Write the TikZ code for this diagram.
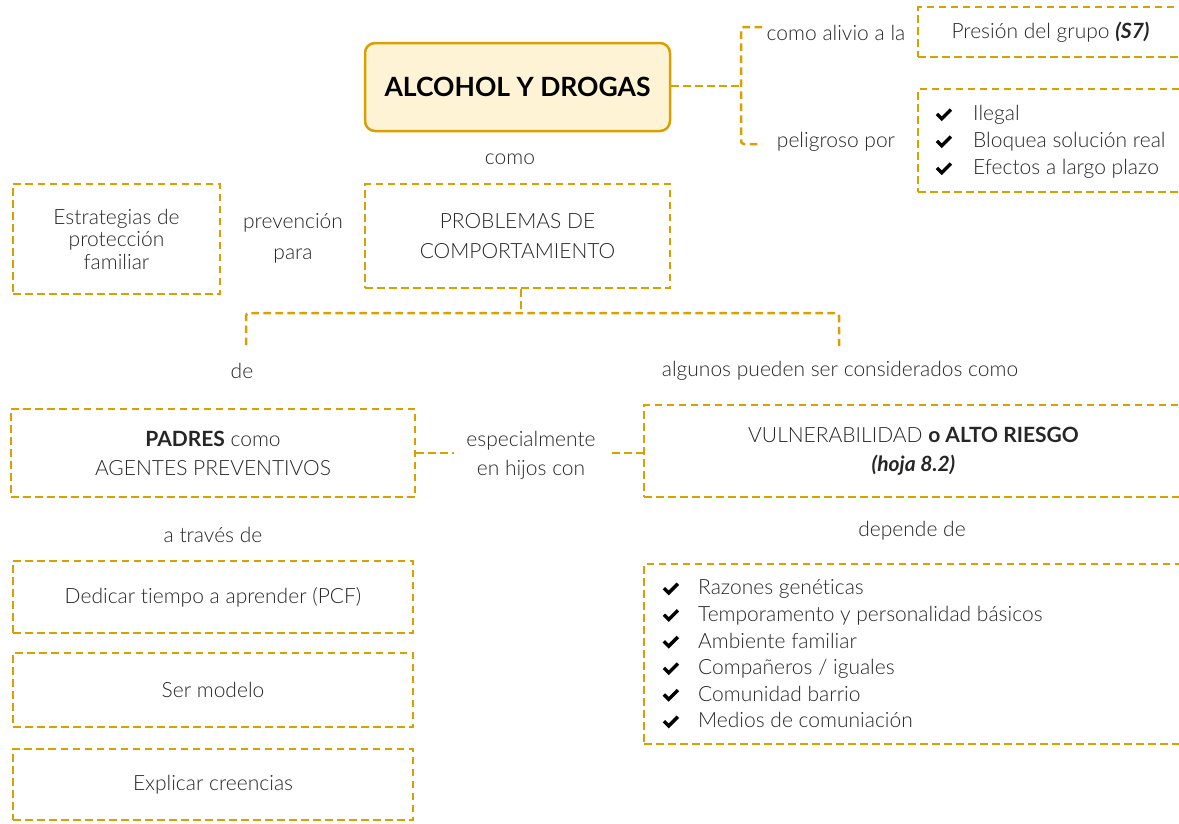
\documentclass[tikz,border=0pt]{standalone}
\usepackage{fontspec}
\IfFontExistsTF{Lato Light}{%
  \setmainfont{Lato Light}[Ligatures={NoCommon},BoldFont={Lato Bold},ItalicFont={Lato Light Italic},BoldItalicFont={Lato Bold Italic}]%
}{\setmainfont{Lato}[Ligatures={NoCommon}]}
\usetikzlibrary{calc}
\definecolor{gold}{RGB}{217,160,0}
\definecolor{cream}{RGB}{255,243,214}
\definecolor{ink}{RGB}{38,38,38}
% bold check icon followed by a fixed gap
\newcommand{\tick}[1]{\makebox[#1][l]{\tikz[x=1pt,y=1pt,baseline=0pt]
  \draw[black,solid,line width=3.4pt,line join=miter,line cap=butt] (0.5,6.8) -- (5.3,2) -- (14.5,11.2);}}
\newcommand{\fs}[1]{\fontsize{21}{#1}\selectfont}

\begin{document}
\begin{tikzpicture}[x=1pt,y=-1pt,text=ink,
  dashline/.style={draw=gold,line width=2.5pt,dash pattern=on 7.5pt off 4.5pt},
  dbox/.style={dashline,inner sep=0pt,align=center},
  lbl/.style={inner sep=0pt,align=center},
  titlebox/.style={draw=gold,fill=cream,line width=2.5pt,rounded corners=10pt,inner sep=0pt,
    minimum width=305pt,minimum height=88pt,font=\fontsize{26.5}{30}\selectfont\bfseries,text=black}]
\useasboundingbox (0,0) rectangle (1179,823);

% central topic
\node[titlebox] (title) at (517.5,87) {ALCOHOL Y DROGAS};

% upper right branch
\node[dbox,minimum width=265pt,minimum height=50pt,font=\fs{22}] (presion) at (1050.5,32)
  {Presión del grupo \textbf{\textit{(S7)}}};
\node[dbox,minimum width=265pt,minimum height=103pt] (peligro) at (1050.5,140.5) {};
\node[lbl,anchor=west,align=left,font=\fs{27}] (pelist) at (935,142)
  {\tick{38pt}Ilegal\\ \tick{38pt}Bloquea solución real\\ \tick{38pt}Efectos a largo plazo};
\node[lbl,font=\fs{22}] (alivio) at (836,33) {como alivio a la};
\node[lbl,font=\fs{22}] (peligroso) at (836,142) {peligroso por};
\coordinate (brT) at (762,27);
\coordinate (brB) at (762,144);
\coordinate (brM) at (741,86);
\draw[dashline] (title.east |- brM) -- (brM);
\draw[dashline,rounded corners=3pt] (brT) -- (741,27) -- (741,144) -- (brB);

% middle row
\node[lbl,font=\fs{22}] (como) at (510,159) {como};
\node[dbox,minimum width=207pt,minimum height=110pt,font=\fs{22.5}] (estrat) at (116.5,239)
  {Estrategias de\\protección\\familiar};
\node[lbl,font=\fs{31}] (prev) at (293,238.5) {prevención\\para};
\node[dbox,minimum width=305pt,minimum height=104pt,font=\fs{30}] (problemas) at (517.5,236)
  {PROBLEMAS DE\\COMPORTAMIENTO};

% split below the problems box
\coordinate (brL) at (246,345);
\coordinate (brR) at (839,346);
\draw[dashline] ($(problemas.south)+(3.5,0)$) -- ++(0,25);
\draw[dashline,rounded corners=3pt] (brL) -- (246,313) -- (839,313) -- (brR);
\node[lbl,font=\fs{22}] (de) at (242,371) {de};
\node[lbl,font=\fs{22}] (algunos) at (840,371) {algunos pueden ser considerados como};

% parents and risk
\node[dbox,minimum width=404pt,minimum height=88pt,font=\fs{29}] (padres) at (213,453)
  {\textbf{PADRES} como\\AGENTES PREVENTIVOS};
\node[lbl,font=\fs{29}] (espec) at (531,455) {especialmente\\en hijos con};
\node[dbox,minimum width=539pt,minimum height=92pt,font=\fs{29}] (vulner) at (913.5,451)
  {VULNERABILIDAD \textbf{o ALTO RIESGO}\\\textbf{\textit{(hoja 8.2)}}};
\coordinate (spL) at (454,453);
\coordinate (spR) at (612,453);
\draw[dashline] (padres.east |- spL) -- (spL);
\draw[dashline] (spR) -- (vulner.west |- spR);

% factors
\node[lbl,font=\fs{22}] (depende) at (912,531) {depende de};
\node[dbox,minimum width=539pt,minimum height=180pt] (factores) at (913.5,654) {};
\node[lbl,anchor=west,align=left,font=\fs{26.6}] (faclist) at (662,654)
  {\tick{36pt}Razones genéticas\\
   \tick{36pt}Temporamento y personalidad básicos\\
   \tick{36pt}Ambiente familiar\\
   \tick{36pt}Compañeros / iguales\\
   \tick{36pt}Comunidad barrio\\
   \tick{36pt}Medios de comuniación};

% ways of prevention
\node[lbl,font=\fs{22}] (traves) at (213,535) {a través de};
\node[dbox,minimum width=400pt,minimum height=72pt,font=\fs{22}] (dedicar) at (213,597)
  {Dedicar tiempo a aprender (PCF)};
\node[dbox,minimum width=400pt,minimum height=74pt,font=\fs{22}] (modelo) at (213,690)
  {Ser modelo};
\node[dbox,minimum width=400pt,minimum height=71pt,font=\fs{22}] (creencias) at (213,784.5)
  {Explicar creencias};
\end{tikzpicture}
\end{document}
